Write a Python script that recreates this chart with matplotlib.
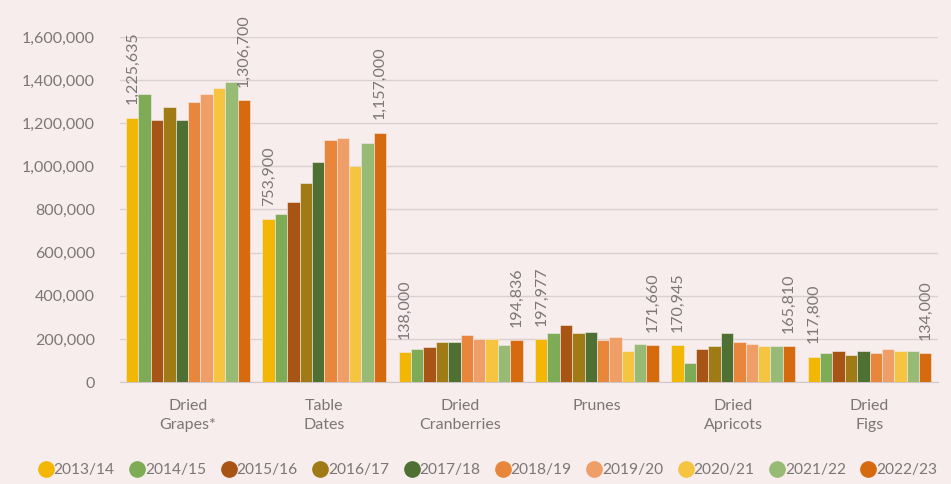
import numpy as np
import matplotlib.pyplot as plt
from matplotlib.lines import Line2D

categories = ["Dried\nGrapes*", "Table\nDates", "Dried\nCranberries", "Prunes", "Dried\nApricots", "Dried\nFigs"]
seasons = ["2013/14", "2014/15", "2015/16", "2016/17", "2017/18",
           "2018/19", "2019/20", "2020/21", "2021/22", "2022/23"]

# one list per product, values per season
grapes = [1225635, 1335000, 1215000, 1275000, 1215000, 1300000, 1335000, 1365000, 1390000, 1306700]
dates = [753900, 780000, 835000, 925000, 1022000, 1120000, 1130000, 1000000, 1110000, 1157000]
cranberries = [138000, 153000, 162000, 185000, 185000, 218000, 200000, 200000, 170000, 194836]
prunes = [197977, 225000, 265000, 225000, 232000, 193000, 207000, 146000, 176000, 171660]
apricots = [170945, 88000, 153000, 168000, 225000, 185000, 176000, 168000, 168000, 165810]
figs = [117800, 135000, 143000, 127000, 143000, 135000, 151000, 143000, 143000, 134000]

colors = ["#F2B705", "#7EAB55", "#A85415", "#A07A14", "#4E7033",
          "#E8873C", "#EE9E66", "#F5C542", "#97BB74", "#D66A0F"]

data = np.array([grapes, dates, cranberries, prunes, apricots, figs])

bg = "#F6EDEC"
txt = "#7E7676"
plt.rcParams['font.family'] = ['Lato', 'DejaVu Sans']

fig = plt.figure(figsize=(9.51, 4.84), dpi=100, facecolor=bg)
ax = fig.add_axes([0.126, 0.2107, 0.86, 0.7129], facecolor=bg)

n = len(seasons)
w = 1 / (n + 1)
x = np.arange(len(categories))
for i in range(n):
    ax.bar(x - 0.5 + w + i * w, data[:, i], width=w,
           color=colors[i], edgecolor=bg, linewidth=0.4, zorder=3)

# labels on first and last season of each product
for j in range(len(categories)):
    for i in (0, n - 1):
        xi = x[j] - 0.5 + w + i * w
        ax.text(xi, data[j, i] + 62000, f"{data[j, i]:,}", rotation=90,
                ha='center', va='bottom', fontsize=11.5, color=txt, clip_on=False)

ax.set_xlim(-0.5, len(categories) - 0.5)
ax.set_ylim(0, 1600000)
ax.set_yticks(np.arange(0, 1600001, 200000))
ax.yaxis.set_major_formatter(plt.FuncFormatter(lambda v, p: f"{int(v):,}"))
ax.grid(axis='y', color='#DAD0CF', linewidth=1, zorder=0)
ax.set_xticks(x)
ax.set_xticklabels(categories, fontsize=11.5, color=txt, linespacing=1.45)
ax.tick_params(axis='y', labelsize=11.5, labelcolor=txt, length=0, pad=18)
ax.tick_params(axis='x', length=0, pad=12)
for s in ['top', 'right', 'left']:
    ax.spines[s].set_visible(False)
ax.spines['bottom'].set_color('#D0C6C5')

handles = [Line2D([], [], marker='o', linestyle='', markersize=11,
                  markerfacecolor=c, markeredgecolor=c) for c in colors]
fig.legend(handles, seasons, loc='center', bbox_to_anchor=(0.512, 0.028), ncol=n,
           frameon=False, fontsize=11.2, labelcolor=txt, handletextpad=-0.1,
           columnspacing=0.85, handlelength=1.2)

fig.savefig("out.png", dpi=100, facecolor=bg)
